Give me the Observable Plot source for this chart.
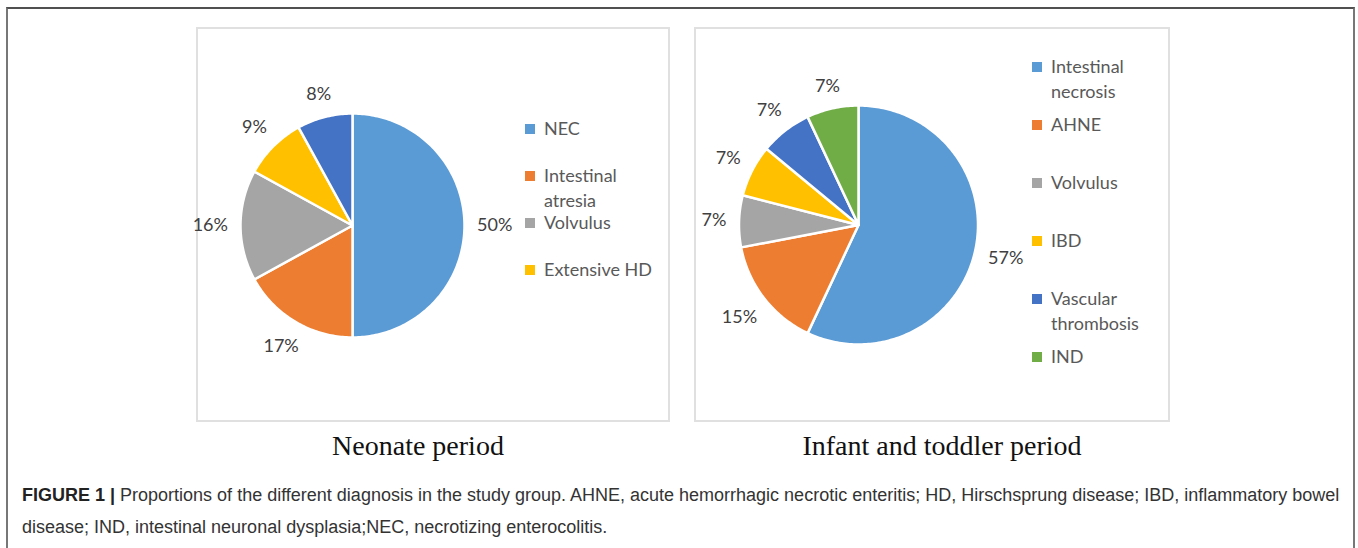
<!DOCTYPE html>
<html><head><meta charset="utf-8">
<script src="https://cdn.jsdelivr.net/npm/d3@7"></script>
<script src="https://cdn.jsdelivr.net/npm/@observablehq/plot@0.6"></script>
<style>
html,body{margin:0;padding:0;background:#fff}
body{width:1358px;height:548px;position:relative;overflow:hidden;font-family:"Liberation Sans",Arial,sans-serif}
#frame{position:absolute;left:6px;top:7px;width:1349px;height:620px;box-sizing:border-box;border-top:2px solid #505050;border-left:2px solid #777;border-right:2px solid #777}
.box{position:absolute;top:27px;height:395px;box-sizing:border-box;border:2px solid #e0e0e0}
.chart{position:absolute;top:28px}
.legend{position:absolute;font-family:Lato,"Noto Sans",sans-serif;font-size:18px;color:#595959;line-height:25px}
.item{position:absolute;left:0;width:150px}
.sw{position:absolute;left:0;top:8px;width:10px;height:10px}
.lt{position:absolute;left:19px;top:0;width:118px}
.title{position:absolute;top:430px;font-family:"Liberation Serif","Times New Roman",serif;font-size:28px;color:#111;text-align:center;width:400px}
#caption{position:absolute;left:22px;top:479px;font-size:18px;line-height:32px;color:#333;white-space:nowrap}
#caption b{color:#222}
</style></head>
<body>
<div id="frame"></div>
<div class="box" style="left:196px;width:474px"></div>
<div class="box" style="left:694px;width:476px"></div>
<div id="c1" class="chart" style="left:196px"></div>
<div id="c2" class="chart" style="left:694px"></div>
<div id="l1" class="legend" style="left:525px;top:116px"></div>
<div id="l2" class="legend" style="left:1032px;top:54px"></div>
<div class="title" style="left:218px">Neonate period</div>
<div class="title" style="left:742px">Infant and toddler period</div>
<div id="caption"><b>FIGURE 1 |</b> Proportions of the different diagnosis in the study group. AHNE, acute hemorrhagic necrotic enteritis; HD, Hirschsprung disease; IBD, inflammatory bowel<br>disease; IND, intestinal neuronal dysplasia;NEC, necrotizing enterocolitis.</div>
<script>
// ---- data ----
const neonateCategories = ["NEC", "Intestinal atresia", "Volvulus", "Extensive HD", "Unlabelled"];
const neonateValues = [50, 17, 16, 9, 8];
const neonateLabels = ["50%", "17%", "16%", "9%", "8%"];
const neonateColors = ["#5b9bd5", "#ed7d31", "#a5a5a5", "#ffc000", "#4472c4"];
const neonateLegend = ["NEC", "Intestinal atresia", "Volvulus", "Extensive HD"];

const infantCategories = ["Intestinal necrosis", "AHNE", "Volvulus", "IBD", "Vascular thrombosis", "IND"];
const infantValues = [57, 15, 7, 7, 7, 7];
const infantLabels = ["57%", "15%", "7%", "7%", "7%", "7%"];
const infantColors = ["#5b9bd5", "#ed7d31", "#a5a5a5", "#ffc000", "#4472c4", "#70ad47"];
const infantLegend = infantCategories;

function pieChart(cats, vals, labels, colors, W, H, cx, cy, R) {
  const arcs = d3.pie().sort(null).value(d => d.v)(cats.map((c, i) => ({c, v: vals[i], l: labels[i]})));
  const pts = [];
  const lab = [];
  for (const a of arcs) {
    const span = a.endAngle - a.startAngle;
    const n = Math.max(2, Math.ceil(span / (Math.PI / 180)));
    pts.push({c: a.data.c, x: 0, y: 0});
    for (let k = 0; k <= n; k++) {
      const t = a.startAngle + span * k / n;
      pts.push({c: a.data.c, x: Math.sin(t), y: Math.cos(t)});
    }
    const m = (a.startAngle + a.endAngle) / 2;
    const s = Math.sin(m), co = Math.cos(m);
    const hw = a.data.l.length * 5.4, hh = 7;
    const d = (R + 14 + hw * Math.abs(s) + hh * Math.abs(co)) / R;
    lab.push({x: s * d, y: co * d, t: a.data.l});
  }
  return Plot.plot({
    width: W, height: H,
    marginLeft: cx - R, marginRight: W - cx - R,
    marginTop: cy - R, marginBottom: H - cy - R,
    x: {domain: [-1, 1], axis: null},
    y: {domain: [-1, 1], axis: null},
    color: {domain: cats, range: colors},
    style: {background: "transparent", overflow: "visible"},
    marks: [
      Plot.line(pts, {x: "x", y: "y", z: "c", fill: "c", stroke: "white", strokeWidth: 2.5, strokeLinejoin: "round", curve: "linear-closed"}),
      Plot.text(lab, {x: "x", y: "y", text: "t", fontSize: 18, fontFamily: "Lato", fill: "#404040", textAnchor: "middle", lineAnchor: "middle"})
    ]
  });
}

function legend(el, names, cats, colors, pitch) {
  names.forEach((n, i) => {
    const it = document.createElement("div");
    it.className = "item";
    it.style.top = (i * pitch) + "px";
    const sw = document.createElement("div");
    sw.className = "sw";
    sw.style.background = colors[cats.indexOf(n)];
    const t = document.createElement("div");
    t.className = "lt";
    t.textContent = n;
    it.appendChild(sw); it.appendChild(t);
    el.appendChild(it);
  });
}

document.getElementById("c1").appendChild(pieChart(neonateCategories, neonateValues, neonateLabels, neonateColors, 474, 394, 156, 197, 112));
document.getElementById("c2").appendChild(pieChart(infantCategories, infantValues, infantLabels, infantColors, 476, 394, 164, 196.5, 119.5));
legend(document.getElementById("l1"), neonateLegend, neonateCategories, neonateColors, 47);
legend(document.getElementById("l2"), infantLegend, infantCategories, infantColors, 58);
</script>
</body></html>
